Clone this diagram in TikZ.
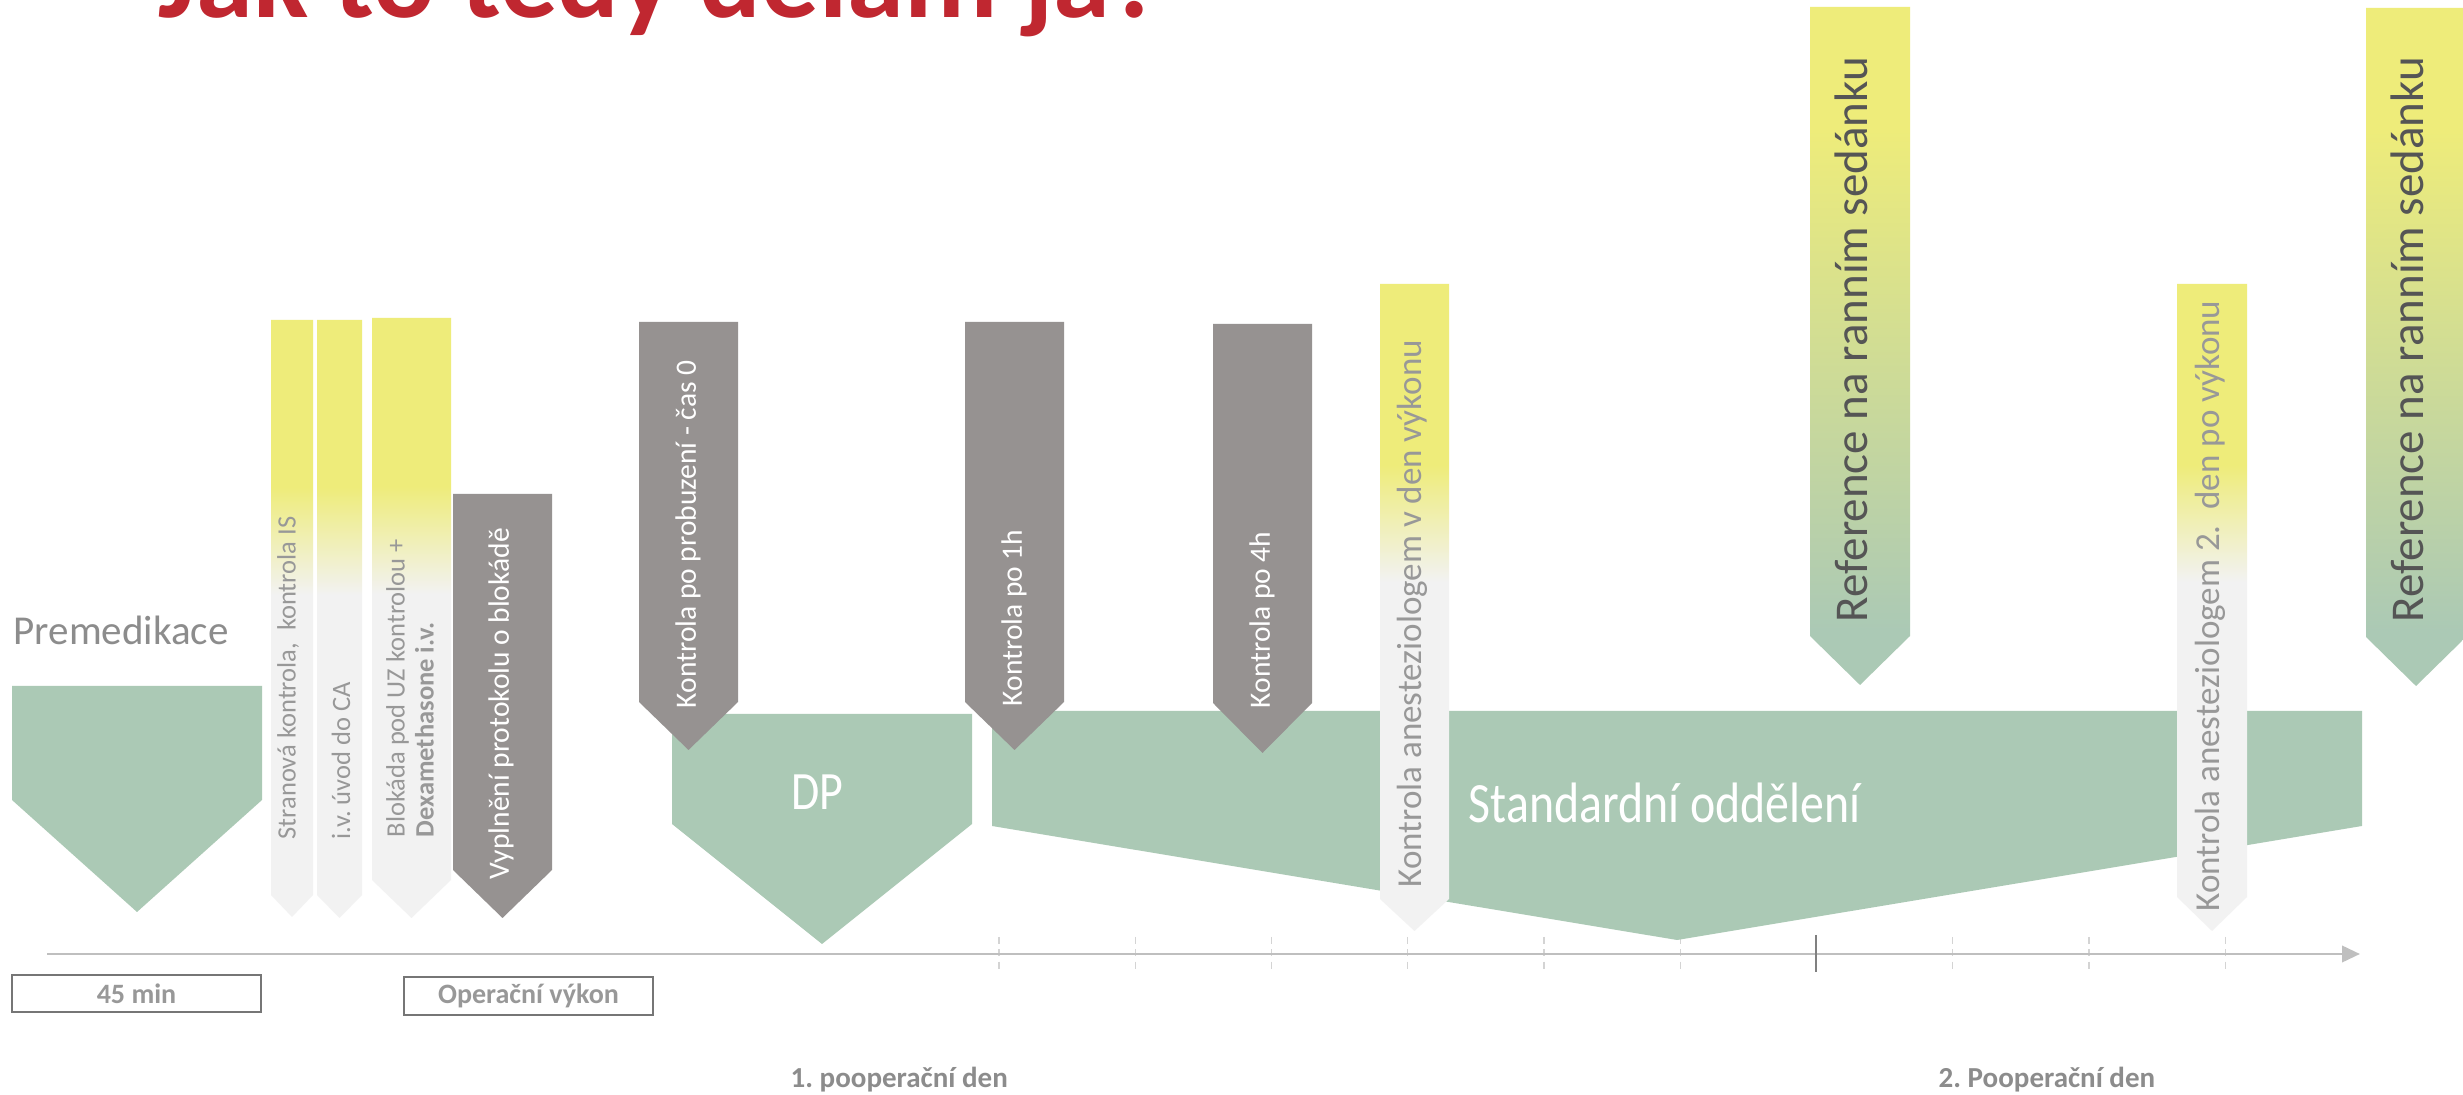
\documentclass[tikz,border=0pt]{standalone}
\usepackage{fontspec}
\usepackage{graphicx}
\setmainfont{Carlito}
\usetikzlibrary{arrows.meta}
\definecolor{grn}{RGB}{171,201,181}
\definecolor{gbox}{RGB}{150,146,145}
\definecolor{lbox}{RGB}{242,242,242}
\definecolor{yel}{RGB}{238,236,122}
\definecolor{ttl}{RGB}{192,39,48}
\definecolor{txtg}{RGB}{152,152,152}
\definecolor{txtd}{RGB}{85,85,85}
\definecolor{premc}{RGB}{140,140,140}
\definecolor{axisc}{RGB}{191,191,191}
\definecolor{tickc}{RGB}{212,212,212}
\definecolor{tickd}{RGB}{128,128,128}
\definecolor{bordc}{RGB}{118,118,118}
\pgfdeclareverticalshading{yelgray}{100bp}{color(0bp)=(lbox); color(52bp)=(lbox); color(61bp)=(yel); color(100bp)=(yel)}
\pgfdeclareverticalshading{yelgreen}{100bp}{color(0bp)=(grn); color(29bp)=(grn); color(66bp)=(yel); color(100bp)=(yel)}
\newcommand\downbox[6]{\path[#1] (#2,#4) -- (#3,#4) -- (#3,#5) -- ({(#2+#3)/2},#6) -- (#2,#5) -- cycle;}
\frenchspacing
\begin{document}
\begin{tikzpicture}[x=0.01cm,y=-0.01cm,
  vlab/.style={rotate=90,anchor=west,inner sep=0pt},
  smalltxt/.style={font=\fontsize{7.54}{8.25}\selectfont,text=txtg},
  graytxt/.style={font=\fontsize{8.39}{9.5}\selectfont,text=white},
  anesttxt/.style={font=\fontsize{9.96}{11}\selectfont,text=txtg},
  reftxt/.style={font=\fontsize{13.37}{15}\selectfont,text=txtd},
  boxlab/.style={draw=bordc,line width=0.6pt,inner sep=0pt,text=txtg,font=\bfseries\fontsize{7.97}{9}\selectfont},
  daylab/.style={anchor=base west,inner sep=0pt,text=premc,font=\bfseries\fontsize{8.25}{10}\selectfont}]
\useasboundingbox (0,0) rectangle (2463,1095);
\clip (0,0) rectangle (2463,1095);
\fill[white] (0,0) rectangle (2463,1095);

% title
\node[anchor=base west,inner sep=0pt,text=ttl,font=\bfseries\fontsize{32.7}{36}\selectfont] (title) at (158,18) {Jak to tedy dělám já?};

% time axis and ticks
\foreach \k in {0,1,2,3,4,5,7,8,9}
  \draw[tickc,line width=0.3pt,dash pattern=on 2pt off 1.5pt] ({999+136.25*\k},937) -- ({999+136.25*\k},972);
\coordinate (ax0) at (47,954);
\coordinate (ax1) at (2360,954);
\draw[axisc,line width=0.85pt,-{Triangle[length=5.1pt,width=4.6pt]}] (ax0) -- (ax1);
\draw[tickd,line width=0.6pt] (1816,935) -- (1816,972);

% green phases
\fill[grn] (12,686) -- (262,686) -- (262,800) -- (137,912) -- (12,800) -- cycle;
\fill[grn] (672,714) -- (972,714) -- (972,824) -- (822,944) -- (672,824) -- cycle;
\fill[grn] (992,711) -- (2362,711) -- (2362,826) -- (1677,940) -- (992,826) -- cycle;

% light markers
\downbox{shade,shading=yelgray}{271}{313}{320}{895}{917}
\downbox{shade,shading=yelgray}{317}{362}{320}{895}{918}
\downbox{shade,shading=yelgray}{372}{451}{318}{880}{918}
\downbox{shade,shading=yelgray}{1380}{1449}{284}{899}{931}
\downbox{shade,shading=yelgray}{2177}{2247}{284}{897}{931}
% gray markers
\downbox{fill=gbox}{453}{552}{494}{870}{918}
\downbox{fill=gbox}{639}{738}{322}{702}{750}
\downbox{fill=gbox}{965}{1064}{322}{702}{750}
\downbox{fill=gbox}{1213}{1312}{324}{703}{753}
% reference markers
\downbox{shade,shading=yelgreen}{1810}{1910}{7}{636}{685}
\downbox{shade,shading=yelgreen}{2366}{2466}{8}{637}{686}

% horizontal texts
\node[anchor=base west,inner sep=0pt,text=premc,font=\fontsize{11.67}{14}\selectfont] (premed) at (13,645) {Premedikace};
\node[anchor=base,inner sep=0pt,text=white,font=\fontsize{15.36}{18}\selectfont] (dp) at (817,810) {\scalebox{0.85}[1]{DP}};
\node[anchor=base west,inner sep=0pt,text=white,font=\fontsize{16.2}{19}\selectfont] (std) at (1468,823) {\scalebox{0.84}[1]{Standardní oddělení}};

% vertical texts
\node[vlab,smalltxt] (t1) at (288,840) {Stranová kontrola,~ kontrola IS};
\node[vlab,smalltxt] (t2) at (341,840) {i.v. úvod do CA};
\node[vlab,smalltxt,align=left] (t3) at (410,838) {Blokáda pod UZ kontrolou +\\\textbf{Dexamethasone i.v.}};
\node[vlab,graytxt] (t4) at (501,880) {Vyplnění protokolu o blokádě};
\node[vlab,graytxt] (t5) at (688,709) {Kontrola po probuzení - čas 0};
\node[vlab,graytxt] (t6) at (1014,707) {Kontrola po 1h};
\node[vlab,graytxt] (t7) at (1262,709) {Kontrola po 4h};
\node[vlab,anesttxt] (t8) at (1412,888) {Kontrola anesteziologem v den výkonu};
\node[vlab,anesttxt] (t9) at (2210,912) {Kontrola anesteziologem 2.~ den po výkonu};
\node[vlab,reftxt] (t10) at (1851,623) {Reference na ranním sedánku};
\node[vlab,reftxt] (t11) at (2407,623) {Reference na ranním sedánku};

% bottom labels
\node[boxlab,minimum width=2.49cm,minimum height=0.37cm] (b45) at (136.5,993.5) {45 min};
\node[boxlab,minimum width=2.49cm,minimum height=0.38cm] (bop) at (528.5,996) {Operační výkon};
\node[daylab] (d1) at (790,1088) {1. pooperační den};
\node[daylab] (d2) at (1938,1088) {2. Pooperační den};
\end{tikzpicture}
\end{document}
